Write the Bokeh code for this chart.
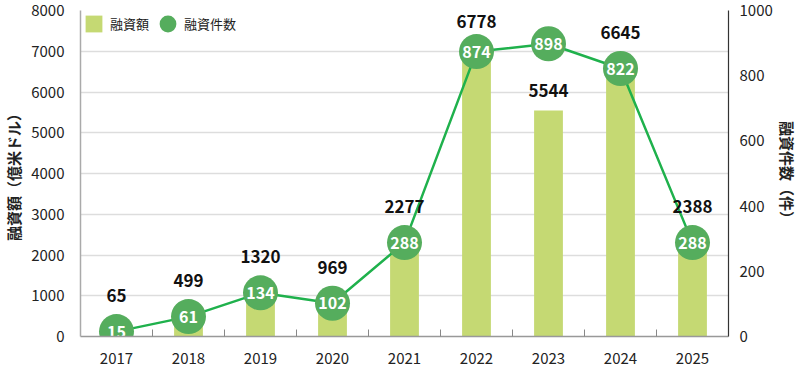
from bokeh.plotting import figure
from bokeh.models import Range1d, LinearAxis, FixedTicker, ColumnDataSource, Legend, LegendItem
from bokeh.core.properties import value
from bokeh.embed import file_html
from bokeh.resources import INLINE

years = ["2017", "2018", "2019", "2020", "2021", "2022", "2023", "2024", "2025"]
amounts = [65, 499, 1320, 969, 2277, 6778, 5544, 6645, 2388]
counts = [15, 61, 134, 102, 288, 874, 898, 822, 288]
amount_ticks = [0, 1000, 2000, 3000, 4000, 5000, 6000, 7000, 8000]
count_ticks = [0, 200, 400, 600, 800, 1000]

FONT = "Noto Sans CJK JP"
AMAX = amount_ticks[-1]
CMAX = count_ticks[-1]
scale = AMAX / CMAX
FRAME_H = 326  # approximate plot-frame height in px, used to keep labels inside

xs = [i + 0.5 for i in range(len(years))]
bounds = [i for i in range(1, len(years))]

label_y = []
label_off = []
for a, c in zip(amounts, counts):
    if c * scale - a > 1000:
        label_y.append(a)
        label_off.append(-20)
    else:
        label_y.append(c * scale)
        room = (CMAX - c) / CMAX * FRAME_H - 11
        label_off.append(-min(36, room))

src = ColumnDataSource(dict(
    x=xs, amount=amounts, count=counts,
    amount_str=[str(v) for v in amounts],
    count_str=[str(v) for v in counts],
    label_y=label_y, label_off=label_off,
))

p = figure(width=800, height=370, x_range=Range1d(0, len(years)), y_range=Range1d(0, AMAX),
           output_backend="svg", toolbar_location=None,
           min_border_left=72, min_border_right=60, min_border_top=10, min_border_bottom=34)
p.extra_y_ranges = {"count": Range1d(0, CMAX)}
p.outline_line_color = None
p.background_fill_color = "white"

# x axis
p.xaxis.ticker = FixedTicker(ticks=xs, minor_ticks=bounds)
p.xaxis.major_label_overrides = {x: y for x, y in zip(xs, years)}
p.xaxis.major_tick_line_color = None
p.xaxis.minor_tick_line_color = "#888888"
p.xaxis.minor_tick_in = 7
p.xaxis.minor_tick_out = 0
p.xaxis.axis_line_color = "#999999"
p.xaxis.axis_line_width = 1.5
p.xaxis.major_label_text_font = FONT
p.xaxis.major_label_text_font_size = "15px"
p.xaxis.major_label_text_color = "#222222"
p.xaxis.major_label_standoff = 10
p.xgrid.visible = False

# left axis
p.yaxis.ticker = FixedTicker(ticks=amount_ticks)
p.yaxis.major_tick_line_color = None
p.yaxis.minor_tick_line_color = None
p.yaxis.axis_line_color = "#aaaaaa"
p.yaxis.axis_line_width = 1.5
p.yaxis.major_label_text_font = FONT
p.yaxis.major_label_text_font_size = "15px"
p.yaxis.major_label_text_color = "#222222"
p.yaxis.major_label_standoff = 10
p.yaxis.axis_label = "融資額（億米ドル）"
p.yaxis.axis_label_text_font = FONT
p.yaxis.axis_label_text_font_size = "15px"
p.yaxis.axis_label_text_font_style = "bold"
p.yaxis.axis_label_text_color = "#222222"
p.yaxis.axis_label_standoff = 4
p.ygrid.ticker = FixedTicker(ticks=amount_ticks)
p.ygrid.grid_line_color = "#dddddd"
p.ygrid.grid_line_width = 1.5

# right axis
ra = LinearAxis(y_range_name="count", ticker=FixedTicker(ticks=count_ticks))
ra.major_tick_line_color = None
ra.minor_tick_line_color = None
ra.axis_line_color = "#333333"
ra.axis_line_width = 1.2
ra.major_label_text_font = FONT
ra.major_label_text_font_size = "15px"
ra.major_label_text_color = "#222222"
ra.major_label_standoff = 5
ra.axis_label = "融資件数（件）"
ra.axis_label_text_font = FONT
ra.axis_label_text_font_size = "15px"
ra.axis_label_text_font_style = "bold"
ra.axis_label_text_color = "#222222"
ra.axis_label_standoff = 1
p.add_layout(ra, "right")

bars = p.vbar(x="x", top="amount", width=0.4, source=src, fill_color="#c5d973", line_color=None)
p.line(x="x", y="count", source=src, y_range_name="count", line_color="#1fb14c", line_width=2.5)
dots = p.ellipse(x="x", y="count", source=src, y_range_name="count", width=35, height=35,
                 width_units="screen", height_units="screen",
                 fill_color="#55ad5d", line_color=None)
p.text(x="x", y="count", text="count_str", source=src, y_range_name="count",
       text_align="center", text_baseline="middle", text_color="white",
       text_font=value(FONT), text_font_size="16px", text_font_style="bold")
p.text(x="x", y="label_y", text="amount_str", source=src, y_offset="label_off",
       text_align="center", text_baseline="middle", text_color="#111111",
       text_font=value(FONT), text_font_size="17px", text_font_style="bold")

legend = Legend(items=[LegendItem(label="融資額", renderers=[bars]),
                       LegendItem(label="融資件数", renderers=[dots])],
                location="top_left", orientation="horizontal",
                border_line_color=None, background_fill_alpha=0,
                label_text_font=FONT, label_text_font_size="13px", label_text_color="#222222",
                glyph_width=21, glyph_height=21, label_standoff=6, spacing=8,
                margin=3, padding=15)
p.add_layout(legend)

open("out.html", "w").write(file_html(p, INLINE))
